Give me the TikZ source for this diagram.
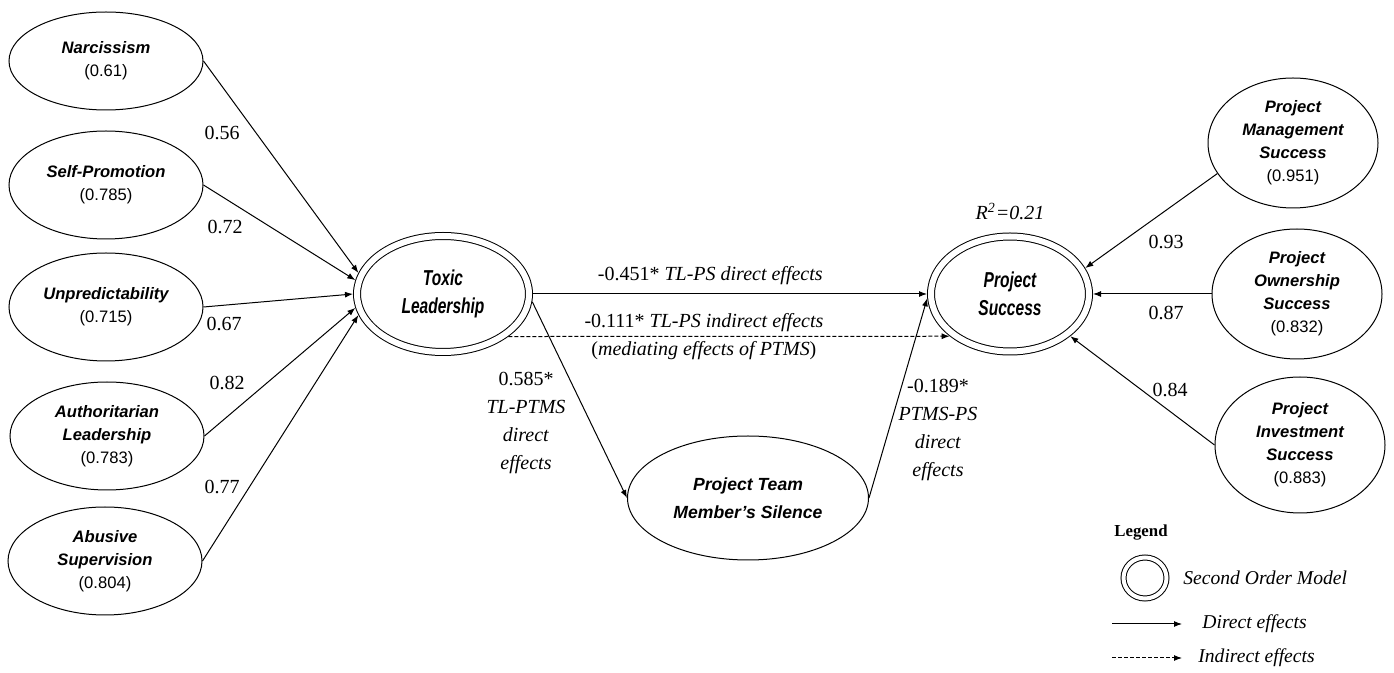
\documentclass[tikz,border=0pt]{standalone}
\usepackage{fontspec}
\setmainfont{Liberation Serif}
\setsansfont{Liberation Sans}
\newfontfamily\narrowsf[FakeStretch=0.72]{Liberation Sans}
\usepackage{tikz}
\usetikzlibrary{arrows.meta,positioning,shapes.geometric}
\newcommand{\lv}[1]{{\upshape\mdseries(#1)}}

\begin{document}
\begin{tikzpicture}[x=0.5pt,y=-0.5pt,
  lat/.style={draw,ellipse,line width=0.5pt,inner sep=0pt,align=center,font=\fontsize{8.3}{11.5}\selectfont\sffamily\bfseries\itshape,minimum width=97pt,minimum height=54pt},
  sec/.style={draw,ellipse,double,double distance=3pt,line width=0.5pt,outer sep=2pt,inner sep=0pt,align=center,font=\fontsize{10.8}{14}\selectfont\narrowsf\bfseries\itshape},
  lbl/.style={font=\fontsize{10}{14}\selectfont,align=center,inner sep=1pt},
  leglbl/.style={lbl,font=\fontsize{9.8}{12}\selectfont\itshape},
  ar/.style={-{Latex[length=4pt,width=3pt]},line width=0.5pt},
  ind/.style={ar,dash pattern=on 2pt off 1pt}]
\useasboundingbox (0,0) rectangle (1394,673);
% toxic leadership dimensions
\node[lat,minimum height=49pt] (narc) at (106,61) {Narcissism\\\lv{0.61}};
\node[lat] (self) at (106,185) {Self-Promotion\\\lv{0.785}};
\node[lat] (unpr) at (106,307) {Unpredictability\\\lv{0.715}};
\node[lat] (auth) at (107,436) {Authoritarian\\Leadership\\\lv{0.783}};
\node[lat] (abus) at (105,561) {Abusive\\Supervision\\\lv{0.804}};
% second order constructs and mediator
\node[sec,minimum width=86pt,minimum height=58pt] (tl) at (443,294) {Toxic\\Leadership};
\node[sec,minimum width=79pt,minimum height=57.5pt] (ps) at (1010,294) {Project\\Success};
\node[lat,font=\fontsize{8.8}{14}\selectfont\sffamily\bfseries\itshape,minimum width=120.5pt,minimum height=62pt] (ptms) at (748,498) {Project Team\\Member’s Silence};
% project success dimensions
\node[lat,minimum width=85pt,minimum height=65pt] (pms) at (1293,143) {Project\\Management\\Success\\\lv{0.951}};
\node[lat,minimum width=85pt,minimum height=65pt] (pos) at (1297,294) {Project\\Ownership\\Success\\\lv{0.832}};
\node[lat,minimum width=85pt,minimum height=68pt] (pis) at (1300,445) {Project\\Investment\\Success\\\lv{0.883}};
% loadings on toxic leadership
\draw[ar] (narc.east) -- (tl.166);
\draw[ar] (self.east) -- (tl.171);
\draw[ar] (unpr.east) -- (tl.180);
\draw[ar] (auth.east) -- (tl.189);
\draw[ar] (abus.east) -- (tl.194);
\node[lbl] (lNarc) at (222,133) {0.56};
\node[lbl] (lSelf) at (225,227) {0.72};
\node[lbl] (lUnpr) at (224,324) {0.67};
\node[lbl] (lAuth) at (227,383) {0.82};
\node[lbl] (lAbus) at (222,487) {0.77};
% structural paths
\draw[ar] (tl.east) -- node[lbl,above=3.4pt,pos=.45] (eTLPS) {-0.451* \textit{TL-PS direct effects}} (ps.west);
\draw[ind] (tl.-33.6) -- node[lbl,pos=.443] (eInd) {-0.111* \textit{TL-PS indirect effects}\\(\textit{mediating effects of PTMS})} (ps.215.7);
\draw[ar] (tl.-5) -- (ptms.west);
\draw[ar] (ptms.east) -- (ps.183);
\node[lbl] (eTLPTMS) at (526,423) {0.585*\\\textit{TL-PTMS}\\\textit{direct}\\\textit{effects}};
\node[lbl] (ePTMSPS) at (938,430) {-0.189*\\\textit{PTMS-PS}\\\textit{direct}\\\textit{effects}};
\node[lbl,above=5pt of ps] (r2) {\textit{R\textsuperscript{2}=0.21}};
% loadings on project success
\draw[ar] (pms.202) -- (ps.19);
\draw[ar] (pos.west) -- (ps.east);
\draw[ar] (pis.west) -- (ps.-35);
\node[lbl] (lPms) at (1166,242) {0.93};
\node[lbl] (lPos) at (1166,313) {0.87};
\node[lbl] (lPis) at (1170,390) {0.84};
% legend
\node[font=\fontsize{8.4}{10}\selectfont\bfseries] (leg) at (1141,533) {Legend};
\node[sec,double distance=2pt,outer sep=1.5pt,minimum width=21.5pt,minimum height=20.5pt] (legSec) at (1145,578) {};
\node[leglbl,right=5.75pt of legSec] (legSecT) {Second Order Model};
\coordinate (dirA) at (1112,624);
\coordinate (dirB) at (1182,624);
\draw[ar] (dirA) -- (dirB);
\node[leglbl,right=9pt of dirB] (legDir) {Direct effects};
\coordinate (indA) at (1112,658);
\coordinate (indB) at (1182,658);
\draw[ind] (indA) -- (indB);
\node[leglbl,right=7pt of indB] (legInd) {Indirect effects};
\end{tikzpicture}
\end{document}
